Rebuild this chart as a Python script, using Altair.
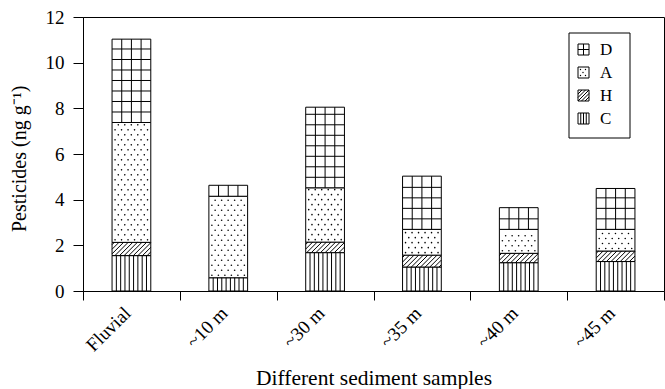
import altair as alt
import pandas as pd

# ---- data ----
categories = ["Fluvial", "~10 m", "~30 m", "~35 m", "~40 m", "~45 m"]
series = ["C", "H", "A", "D"]
C_vals = [1.55, 0.58, 1.68, 1.05, 1.24, 1.29]
H_vals = [0.58, 0.00, 0.46, 0.52, 0.41, 0.46]
A_vals = [5.25, 3.57, 2.38, 1.13, 1.05, 0.95]
D_vals = [3.65, 0.48, 3.53, 2.33, 0.95, 1.79]
legend_order = ["D", "A", "H", "C"]
y_ticks = [0, 2, 4, 6, 8, 10, 12]
y_title = "Pesticides (ng g\u207b\u00b9)"
x_title = "Different sediment samples"

# ---- layout / style constants ----
W, H = 581, 274
UX, UY = W / 6.0, H / 12.0
BAR = 0.4
FONT = "Liberation Serif"

# ---- build segments and hatch patterns from the data ----
segs, lines, dots = [], [], []
for i, cat in enumerate(categories):
    base = 0.0
    for s, vals in zip(series, [C_vals, H_vals, A_vals, D_vals]):
        v = vals[i]
        y0, y1 = base, base + v
        base = y1
        if v <= 0:
            continue
        segs.append(dict(cat=cat, series=s, y0=y0, y1=y1))
        xl = i + 0.5 - BAR / 2
        xr = i + 0.5 + BAR / 2
        hpx = v * UY
        wpx = BAR * UX
        if s == "C":
            for k in range(1, 9):
                x = xl + BAR * k / 9
                lines.append(dict(x0=x, x1=x, y0=y0, y1=y1))
        elif s == "D":
            for k in range(1, 4):
                x = xl + BAR * k / 4
                lines.append(dict(x0=x, x1=x, y0=y0, y1=y1))
            m = 1
            while m * 10.5 < hpx - 3:
                yy = y0 + m * 10.5 / UY
                lines.append(dict(x0=xl, x1=xr, y0=yy, y1=yy))
                m += 1
        elif s == "H":
            step = 4.6
            c = -hpx + step / 2
            while c < wpx:
                us = max(c, 0.0)
                ue = min(wpx, hpx + c)
                if ue > us:
                    lines.append(dict(x0=xl + us / UX, x1=xl + ue / UX,
                                      y0=y0 + (us - c) / UY, y1=y0 + (ue - c) / UY))
                c += step
        elif s == "A":
            r = 0
            w = 2.5
            while w < hpx - 1.5:
                u = 3.0 + (r % 2) * 3.25
                while u < wpx - 1.5:
                    dots.append(dict(x=xl + u / UX, y=y0 + w / UY))
                    u += 6.5
                r += 1
                w += 5.0

seg_df = pd.DataFrame(segs)
line_df = pd.DataFrame(lines)
dot_df = pd.DataFrame(dots)

# ---- legend (pixel coordinates inside plot area) ----
LX0, LX1, LY0, LY1 = 486, 547, 16, 121
SW_X, SW = 495, 11
sw_tops = [27, 50, 73, 96]
leg_boxes, leg_lines, leg_dots, leg_text = [], [], [], []
for name, top in zip(legend_order, sw_tops):
    x0, x1, t, b = SW_X, SW_X + SW, top, top + SW
    leg_boxes.append(dict(x0=x0, x1=x1, y0=t, y1=b))
    leg_text.append(dict(x=517, y=t + SW / 2 + 0.5, label=name))
    if name == "D":
        leg_lines.append(dict(x0=x0 + SW / 2, x1=x0 + SW / 2, y0=t, y1=b))
        leg_lines.append(dict(x0=x0, x1=x1, y0=t + SW / 2, y1=t + SW / 2))
    elif name == "C":
        for k in range(1, 4):
            xx = x0 + SW * k / 4
            leg_lines.append(dict(x0=xx, x1=xx, y0=t, y1=b))
    elif name == "H":
        for c in [-7.0, -3.5, 0.0, 3.5, 7.0]:
            us = max(c, 0.0)
            ue = min(SW, SW + c)
            leg_lines.append(dict(x0=x0 + us, x1=x0 + ue, y0=b - (us - c), y1=b - (ue - c)))
    elif name == "A":
        for (dx, dy) in [(2.5, 2.5), (7.5, 2.5), (5, 5.5), (2.5, 8.5), (7.5, 8.5)]:
            leg_dots.append(dict(x=x0 + dx, y=t + dy))

# ---- chart ----
y_scale = alt.Scale(domain=[0, 12], nice=False, zero=True)
xq = alt.Scale(domain=[0, 6], nice=False, zero=False)

bars = alt.Chart(seg_df).mark_bar(
    width=alt.RelativeBandSize(0.4), fill="white", stroke="black", strokeWidth=1
).encode(
    x=alt.X("cat:N", sort=categories,
            scale=alt.Scale(paddingInner=0, paddingOuter=0),
            axis=alt.Axis(title=x_title, labelAngle=-45,
                          labelAlign="right", labelBaseline="alphabetic",
                          tickBand="extent", tickSize=9, labelPadding=14,
                          labelFont=FONT, labelFontSize=19, labelColor="black",
                          titleFont=FONT, titleFontSize=21.5, titleFontWeight="normal",
                          titleColor="black", titleY=93, titleBaseline="alphabetic",
                          domainColor="black", tickColor="black", grid=False)),
    y=alt.Y("y0:Q", scale=y_scale,
            axis=alt.Axis(title=None, values=y_ticks,
                          tickSize=10, labelPadding=9, labelFont=FONT, labelFontSize=19,
                          labelColor="black", domainColor="black",
                          tickColor="black", grid=False)),
    y2="y1:Q",
)

ytitle = alt.Chart(pd.DataFrame({"t": [y_title]})).mark_text(
    angle=270, align="left", baseline="middle", font=FONT, fontSize=20, color="black"
).encode(x=alt.value(-63), y=alt.value(215), text="t:N")

pat_lines = alt.Chart(line_df).mark_rule(color="black", strokeWidth=1).encode(
    x=alt.X("x0:Q", scale=xq, axis=None),
    x2="x1:Q",
    y=alt.Y("y0:Q", scale=y_scale),
    y2="y1:Q",
)

pat_dots = alt.Chart(dot_df).mark_circle(color="black", size=2.5, opacity=1).encode(
    x=alt.X("x:Q", scale=xq, axis=None),
    y=alt.Y("y:Q", scale=y_scale),
)

leg_box = alt.Chart(pd.DataFrame([dict(x0=LX0, x1=LX1, y0=LY0, y1=LY1)])).mark_rect(
    fill="white", stroke="black", strokeWidth=1
).encode(
    x=alt.X("x0:Q", scale=None), x2="x1:Q",
    y=alt.Y("y0:Q", scale=None), y2="y1:Q",
)
leg_sw = alt.Chart(pd.DataFrame(leg_boxes)).mark_rect(
    fill="white", stroke="black", strokeWidth=1
).encode(
    x=alt.X("x0:Q", scale=None), x2="x1:Q",
    y=alt.Y("y0:Q", scale=None), y2="y1:Q",
)
leg_ln = alt.Chart(pd.DataFrame(leg_lines)).mark_rule(color="black", strokeWidth=1).encode(
    x=alt.X("x0:Q", scale=None), x2="x1:Q",
    y=alt.Y("y0:Q", scale=None), y2="y1:Q",
)
leg_dt = alt.Chart(pd.DataFrame(leg_dots)).mark_circle(color="black", size=2, opacity=1).encode(
    x=alt.X("x:Q", scale=None),
    y=alt.Y("y:Q", scale=None),
)
leg_tx = alt.Chart(pd.DataFrame(leg_text)).mark_text(
    align="left", baseline="middle", font=FONT, fontSize=17, color="black"
).encode(
    x=alt.X("x:Q", scale=None),
    y=alt.Y("y:Q", scale=None),
    text="label:N",
)

chart = alt.layer(
    bars, pat_lines, pat_dots, leg_box, leg_sw, leg_ln, leg_dt, leg_tx, ytitle
).resolve_scale(x="independent").properties(
    width=W, height=H,
    padding={"left": 83, "top": 17, "right": 1, "bottom": 98},
    autosize=alt.AutoSizeParams(type="none"),
    background="white",
).configure_view(stroke="black", strokeWidth=1)

chart.save("out.html", embed_options={"renderer": "svg", "actions": False})
